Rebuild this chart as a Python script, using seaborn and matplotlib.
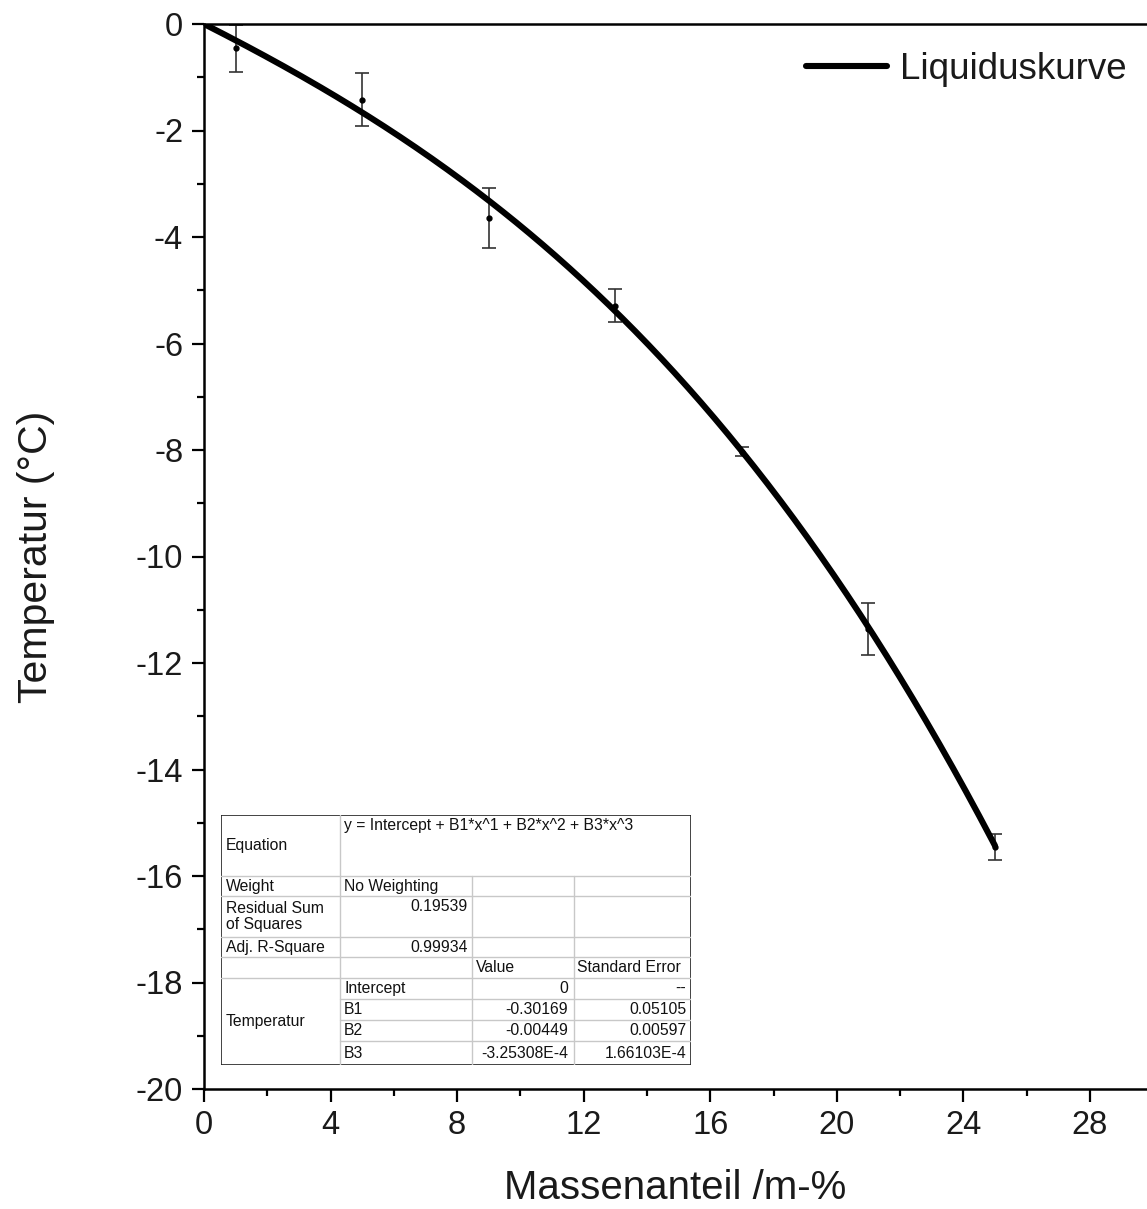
import numpy as np
import pandas as pd
import matplotlib
matplotlib.use("Agg")
import matplotlib.pyplot as plt
import seaborn as sns

# Data
mass_fraction = [1, 5, 9, 13, 17, 21, 25]
temperature = [-0.46, -1.42, -3.64, -5.29, -8.03, -11.36, -15.46]
temp_error = [0.45, 0.5, 0.56, 0.31, 0.08, 0.49, 0.24]

# Fit coefficients (from table)
intercept = 0.0
b1 = -0.30169
b2 = -0.00449
b3 = -3.25308e-4

x_ticks = [0, 4, 8, 12, 16, 20, 24, 28]
y_ticks = [0, -2, -4, -6, -8, -10, -12, -14, -16, -18, -20]

table_rows = [
    ["Weight", "No Weighting", "", ""],
    ["Residual Sum\nof Squares", "0.19539", "", ""],
    ["Adj. R-Square", "0.99934", "", ""],
    ["", "", "Value", "Standard Error"],
]
param_names = ["Intercept", "B1", "B2", "B3"]
param_values = ["0", "-0.30169", "-0.00449", "-3.25308E-4"]
param_errors = ["--", "0.05105", "0.00597", "1.66103E-4"]
equation_text = "y = Intercept + B1*x^1 + B2*x^2 + B3*x^3"

sns.set_theme(style="ticks")
plt.rcParams['font.family'] = ['Liberation Sans', 'DejaVu Sans']
plt.rcParams['text.color'] = 'black'
plt.rcParams['axes.labelcolor'] = 'black'

W, H = 1147, 1209
fig = plt.figure(figsize=(W / 100, H / 100), dpi=100)
ax_left, ax_top, ax_bottom = 204, 24, 1089
ax = fig.add_axes([ax_left / W, 1 - ax_bottom / H, 1 - ax_left / W, (ax_bottom - ax_top) / H])

xfit = np.linspace(0, 25, 300)
fit_df = pd.DataFrame({"x": xfit, "y": intercept + b1 * xfit + b2 * xfit**2 + b3 * xfit**3})
sns.lineplot(data=fit_df, x="x", y="y", ax=ax, color="black", lw=4.4, label="Liquiduskurve", zorder=3)

ax.errorbar(mass_fraction, temperature, yerr=temp_error, fmt="o", ms=3.5, color="black",
            ecolor="#333333", elinewidth=1.2, capsize=5, capthick=1.2, zorder=2)

ax.set_xlim(0, (W - ax_left) / 31.64)
ax.set_ylim(-20, 0)
ax.set_xticks(x_ticks)
ax.set_yticks(y_ticks)
ax.set_xticklabels([str(t) for t in x_ticks])
ax.set_yticklabels([str(t) for t in y_ticks])
ax.set_xticks(np.arange(2, 30, 4), minor=True)
ax.set_yticks(np.arange(-19, 0, 2), minor=True)
ax.tick_params(which="major", direction="out", length=9, width=1.6, labelsize=23.5, pad=6,
               colors="black", labelcolor="#1a1a1a")
ax.tick_params(which="minor", direction="out", length=5, width=1.6, colors="black")
for s in ["left", "bottom", "top"]:
    ax.spines[s].set_linewidth(1.8)
    ax.spines[s].set_color("black")
ax.spines["right"].set_visible(False)

ax.set_xlabel("Massenanteil /m-%", fontsize=29, labelpad=20, color="#1a1a1a")
ax.set_ylabel("Temperatur (°C)", fontsize=29.5, labelpad=58, color="#1a1a1a")

leg = ax.legend(loc="upper right", frameon=False, fontsize=26.5, handlelength=2.2,
                handletextpad=0.35, bbox_to_anchor=(1.0, 0.993), borderaxespad=0.15)
for t in leg.get_texts():
    t.set_color("#1a1a1a")

# Table (pixel coordinate axes)
tx0, tx1, ty0, ty1 = 221, 691, 815, 1065
tax = fig.add_axes([tx0 / W, 1 - ty1 / H, (tx1 - tx0) / W, (ty1 - ty0) / H])
tax.set_xlim(tx0, tx1)
tax.set_ylim(ty1, ty0)
tax.axis("off")
tax.add_patch(plt.Rectangle((tx0, ty0), tx1 - tx0, ty1 - ty0, fill=True, facecolor="white",
                            edgecolor="#222222", lw=1.2, zorder=1))
cols = [221, 340, 472, 574, 691]
rows = [815, 876, 896, 937, 957, 978, 999, 1020, 1041, 1065]
g = "#c8c8c8"
for r in rows[1:6]:
    tax.plot([cols[0], cols[4]], [r, r], color=g, lw=1, zorder=2)
for r in rows[6:9]:
    tax.plot([cols[1], cols[4]], [r, r], color=g, lw=1, zorder=2)
tax.plot([cols[1], cols[1]], [rows[0], rows[9]], color=g, lw=1, zorder=2)
tax.plot([cols[2], cols[2]], [rows[1], rows[9]], color=g, lw=1, zorder=2)
tax.plot([cols[3], cols[3]], [rows[1], rows[9]], color=g, lw=1, zorder=2)

fs = 11.3
tc = "#111111"
tax.text(cols[0] + 5, (rows[0] + rows[1]) / 2, "Equation", fontsize=fs, va="center", color=tc)
tax.text(cols[1] + 4, rows[0] + 3, equation_text, fontsize=fs, va="top", color=tc)
for i, row in enumerate(table_rows):
    yc = (rows[i + 1] + rows[i + 2]) / 2
    tax.text(cols[0] + 5, yc, row[0], fontsize=fs, va="center", color=tc, linespacing=1.15)
    if i == 0:
        tax.text(cols[1] + 4, yc, row[1], fontsize=fs, va="center", color=tc)
    elif row[1]:
        tax.text(cols[2] - 4, rows[i + 1] + 3, row[1], fontsize=fs, va="top", ha="right", color=tc)
    if row[2]:
        tax.text(cols[2] + 4, yc, row[2], fontsize=fs, va="center", color=tc)
    if row[3]:
        tax.text(cols[3] + 3, yc, row[3], fontsize=fs, va="center", color=tc)
tax.text(cols[0] + 5, (rows[5] + rows[9]) / 2, "Temperatur", fontsize=fs, va="center", color=tc)
for j in range(4):
    yc = (rows[5 + j] + rows[6 + j]) / 2
    tax.text(cols[1] + 4, yc, param_names[j], fontsize=fs, va="center", color=tc)
    tax.text(cols[3] - 6, yc, param_values[j], fontsize=fs, va="center", ha="right", color=tc)
    tax.text(cols[4] - 5, yc, param_errors[j], fontsize=fs, va="center", ha="right", color=tc)

fig.savefig("out.png", dpi=100)
